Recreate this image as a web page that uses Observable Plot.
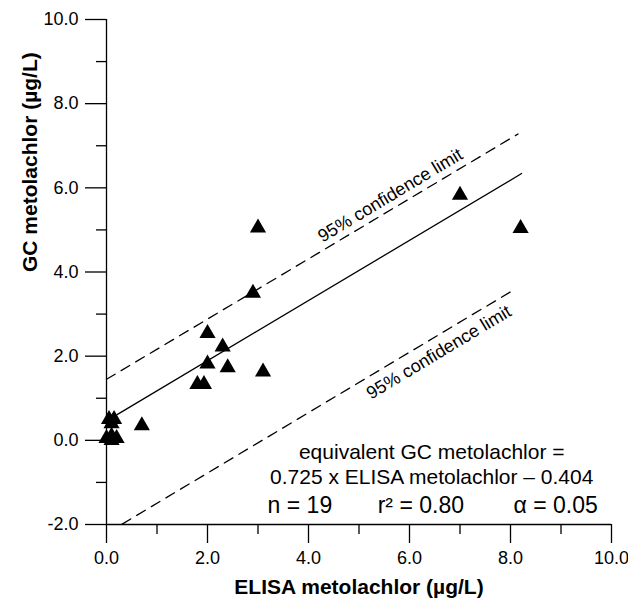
<!DOCTYPE html>
<html>
<head>
<meta charset="utf-8">
<script src="https://cdn.jsdelivr.net/npm/d3@7"></script>
<script src="https://cdn.jsdelivr.net/npm/@observablehq/plot@0.6"></script>
<style>
  html, body { margin: 0; padding: 0; background: #fff; }
  svg { display: block; }
</style>
</head>
<body>
<div id="chart"></div>
<script>
// ELISA (x) vs GC (y) metolachlor, µg/L
const elisa = [0.05, 0.15, 0.1, 0.0, 0.1, 0.2, 0.1, 0.7, 1.8, 1.93, 2.0, 2.0, 2.3, 2.4, 3.1, 2.9, 3.0, 7.0, 8.2];
const gc    = [0.5, 0.5, 0.4, 0.05, 0.0, 0.05, 0.1, 0.35, 1.33, 1.33, 1.82, 2.54, 2.22, 1.73, 1.63, 3.5, 5.05, 5.83, 5.04];

// regression and 95% confidence limits (end points)
const fitX = [0.21, 8.22], fitY = [0.61, 6.34];
const upX = [0.0, 8.15],  upY = [1.45, 7.28];
const loX = [0.31, 8.1],  loY = [-1.99, 3.6];

const xTicks = [0, 2, 4, 6, 8, 10];
const xMinor = [1, 3, 5, 7, 9];
const yTicks = [-2, 0, 2, 4, 6, 8, 10];
const yMinor = [-1, 1, 3, 5, 7, 9];

const xTitle = "ELISA metolachlor (µg/L)";
const yTitle = "GC metolachlor (µg/L)";
const eqLine1 = "equivalent GC metolachlor =";
const eqLine2 = "0.725 x ELISA metolachlor – 0.404";
const statN = "n = 19", statR = "r² = 0.80", statA = "α = 0.05";
const ciLabel = "95% confidence limit";

const pts = elisa.map((x, i) => ({x, y: gc[i]}));
const seg = (xs, ys) => xs.map((x, i) => ({x, y: ys[i]}));
const fmt = d => d.toFixed(1);
const FONT = "'Liberation Sans', Arial, Helvetica, sans-serif";
const SW = 1.3;

const chart = Plot.plot({
  width: 628, height: 603,
  marginTop: 19, marginLeft: 106, marginRight: 17, marginBottom: 79,
  x: {domain: [0, 10]},
  y: {domain: [-2, 10]},
  style: {fontFamily: FONT, fontSize: "18px", color: "#000", background: "#fff"},
  marks: [
    Plot.axisX(xTicks, {tickSize: 19, tickPadding: 8, tickFormat: fmt, label: null, fontSize: 18, strokeWidth: SW}),
    Plot.axisY(yTicks, {tickSize: 21, tickPadding: 7, tickFormat: fmt, label: null, fontSize: 18, strokeWidth: SW}),
    // minor ticks
    Plot.ruleX(xMinor, {x: d => d, y1: -2, y2: -2, insetBottom: -10, strokeWidth: SW}),
    Plot.ruleY(yMinor, {y: d => d, x1: 0, x2: 0, insetLeft: -10, strokeWidth: SW}),
    // axis lines
    Plot.ruleX([0], {strokeWidth: SW}),
    Plot.ruleY([-2], {strokeWidth: SW}),
    // regression + confidence limits
    Plot.line(seg(fitX, fitY), {x: "x", y: "y", stroke: "#000", strokeWidth: SW}),
    Plot.line(seg(upX, upY), {x: "x", y: "y", stroke: "#000", strokeWidth: SW, strokeDasharray: "10,7"}),
    Plot.line(seg(loX, loY), {x: "x", y: "y", stroke: "#000", strokeWidth: SW, strokeDasharray: "10,7"}),
    Plot.dot(pts, {x: "x", y: "y", symbol: "triangle", r: 6, fill: "#000", stroke: "none"}),
    Plot.text([ciLabel], {x: 5.62, y: 5.82, rotate: -31, fontSize: 18}),
    Plot.text([ciLabel], {x: 6.58, y: 2.09, rotate: -31, fontSize: 18}),
    Plot.text([eqLine1], {x: 6.44, y: -0.29, fontSize: 21}),
    Plot.text([eqLine2], {x: 6.44, y: -0.88, fontSize: 21}),
    Plot.text([statN], {x: 3.19, y: -1.55, textAnchor: "start", fontSize: 23}),
    Plot.text([statR], {x: 5.37, y: -1.55, textAnchor: "start", fontSize: 23}),
    Plot.text([statA], {x: 8.06, y: -1.55, textAnchor: "start", fontSize: 23}),
    Plot.text([xTitle], {frameAnchor: "bottom", dy: 69, fontWeight: "bold", fontSize: 21}),
    Plot.text([yTitle], {frameAnchor: "left", dx: -76, rotate: -90, fontWeight: "bold", fontSize: 21})
  ]
});
document.getElementById("chart").append(chart);
</script>
</body>
</html>
